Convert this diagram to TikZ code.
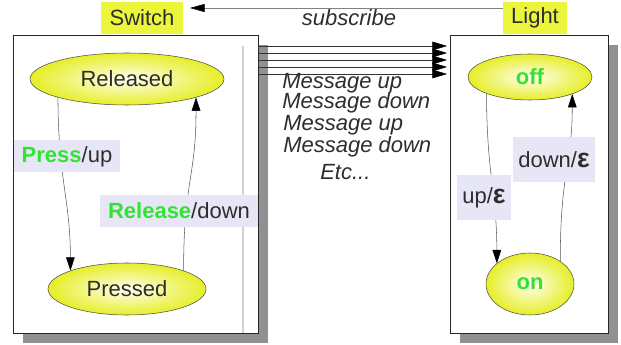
\documentclass[tikz,border=0pt]{standalone}
\usepackage{fontspec}
\setmainfont{Liberation Sans}
\usepackage{xcolor}
\usepackage{tikz}
\usetikzlibrary{arrows.meta,shapes.geometric}

\definecolor{lblyellow}{RGB}{234,245,60}
\definecolor{stateyellow}{RGB}{230,238,40}
\definecolor{lavender}{RGB}{230,230,247}
\definecolor{trigreen}{RGB}{50,228,50}
\definecolor{textgray}{RGB}{45,45,45}
\definecolor{shadowgray}{RGB}{145,145,145}

\tikzset{
  state/.style={ellipse, draw=black!70, inner sep=0pt, inner color=yellow!6, outer color=stateyellow, text=textgray},
  trlabel/.style={fill=lavender, inner xsep=6pt, inner ysep=0pt, minimum height=24pt, text=textgray},
  owner/.style={fill=lblyellow, inner sep=0pt, minimum height=24pt, text=textgray},
  machine/.style={draw=black!85, fill=white, inner sep=0pt},
  trans/.style={draw=black!65, -{Triangle[length=10pt,width=6.5pt,black]}},
  msgline/.style={draw=black!80, -{Triangle[length=11pt,width=6.5pt,black]}},
  msgtext/.style={anchor=west, inner sep=0pt, text=textgray, font=\fontsize{16.5}{19}\selectfont\itshape}
}
\newcommand{\eps}{\textbf{\fontsize{20}{20}\selectfont ε}}

\begin{document}
\begin{tikzpicture}[x=0.75pt,y=0.75pt,yscale=-1,xscale=1,font=\fontsize{16.5}{19}\selectfont]
\useasboundingbox (0,0) rectangle (621,345);

% shadows
\fill[shadowgray] (23,45) rectangle (268,343);
\fill[shadowgray] (460,45) rectangle (618,343);

% the two machines
\node[machine, minimum width=183.75pt, minimum height=223.5pt] (switchbox) at (135.5,184) {};
\node[machine, minimum width=118.5pt, minimum height=223.5pt] (lightbox) at (529,184) {};
\draw[gray!35, line width=1pt] (243,46) -- (243,333);

\node[owner, minimum width=61.5pt] (switchlbl) at (142,18) {Switch};
\node[owner, minimum width=48pt] (lightlbl) at (535,18) {Light};

% subscribe
\coordinate (subfrom) at (503,8);
\draw[draw=gray, -{Triangle[length=11pt,width=6pt,black]}, shorten >=5pt] (subfrom) -- (switchlbl.east |- subfrom);
\node[inner sep=0pt, text=textgray, font=\fontsize{16.5}{19}\selectfont\itshape] (sublbl) at (349,18) {subscribe};

% messages
\foreach \y in {46,53,60,67,74}
  \draw[msgline, shorten >=2pt] (switchbox.east |- 0,\y) -- (lightbox.west |- 0,\y);
\node[msgtext] (m1) at (282,83) {Message up};
\node[msgtext] (m2) at (282,103) {Message down};
\node[msgtext] (m3) at (283,125) {Message up};
\node[msgtext] (m4) at (283,147) {Message down};
\node[msgtext] (m5) at (320,172) {Etc...};

% switch states
\node[state, minimum width=145.5pt, minimum height=39pt] (released) at (127,79) {Released};
\node[state, minimum width=118.5pt, minimum height=39pt] (pressed) at (127,289) {Pressed};

\draw[trans] (released.-165) .. controls +(0,80) and +(0,-70) .. (pressed.162);
\draw[trans] (pressed.18) .. controls +(0,-90) and +(0,80) .. (released.-15);

\node[trlabel] (presslbl) at (67,156.5) {\textcolor{trigreen}{\textbf{Press}}/up};
\node[trlabel] (releaselbl) at (179,211) {\textcolor{trigreen}{\textbf{Release}}/down};

% light states
\node[state, minimum width=93pt, minimum height=34.5pt] (off) at (530,77) {\textcolor{trigreen}{\textbf{off}}};
\node[state, minimum width=66pt, minimum height=46.5pt] (on) at (530,284) {\textcolor{trigreen}{\textbf{on}}};

\draw[trans] (off.-159) .. controls +(0,80) and +(0,-70) .. (on.148);
\draw[trans] (on.37) .. controls +(0,-90) and +(0,70) .. (off.-22);

\node[trlabel, minimum height=34pt, inner xsep=4pt] (uplbl) at (484,197.5) {up/\eps};
\node[trlabel, minimum height=34pt, inner xsep=4pt] (downlbl) at (554,159.5) {down/\eps};

\end{tikzpicture}
\end{document}
